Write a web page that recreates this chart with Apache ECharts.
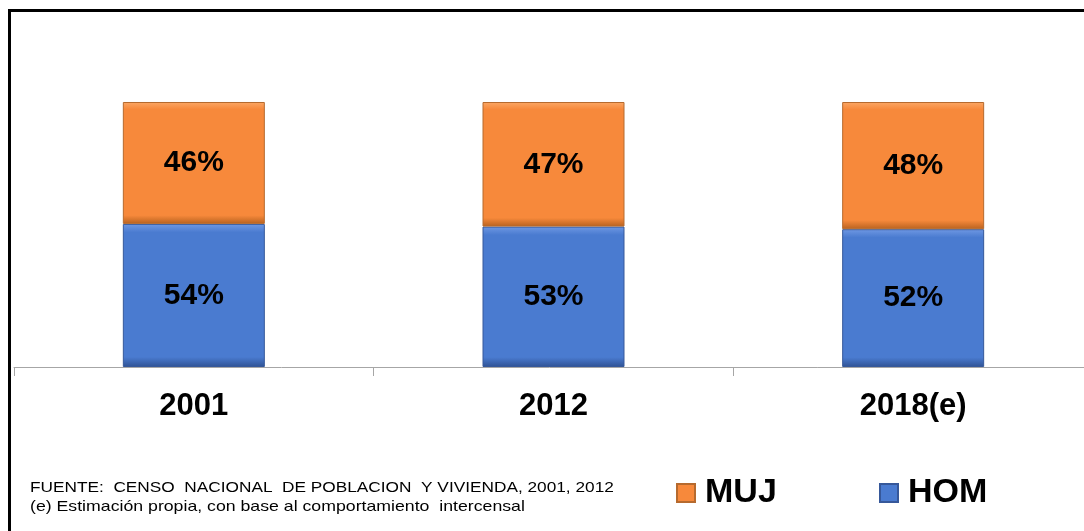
<!DOCTYPE html>
<html>
<head>
<meta charset="utf-8">
<script src="https://cdn.jsdelivr.net/npm/echarts@6/dist/echarts.min.js"></script>
<style>
  html, body { margin: 0; padding: 0; background: #fff; }
  #chart { width: 1084px; height: 531px; }
</style>
</head>
<body>
<div id="chart"></div>
<script>
// data
var years = ['2001', '2012', '2018(e)'];
var hom = [54, 53, 52];
var muj = [46, 47, 48];
var notes = [
  'FUENTE:  CENSO  NACIONAL  DE POBLACION  Y VIVIENDA, 2001, 2012',
  '(e) Estimación propia, con base al comportamiento  intercensal'
];

(function() {
  var orange = '#F7893B';
  var blue = '#4A7BD0';
  var font = 'Arial, "Liberation Sans", sans-serif';

  // fake the bevel: light strip on top, dark strip at the bottom
  function bevel(light, base, dark) {
    return {
      type: 'linear', x: 0, y: 0, x2: 0, y2: 1,
      colorStops: [
        { offset: 0, color: light },
        { offset: 0.06, color: base },
        { offset: 0.93, color: base },
        { offset: 1, color: dark }
      ]
    };
  }

  var label = {
    show: true,
    position: 'inside',
    color: '#000',
    fontFamily: font,
    fontWeight: 'bold',
    fontSize: 30,
    formatter: '{c}%'
  };

  var legendText = { fontFamily: font, fontWeight: 'bold', fontSize: 34, color: '#000', padding: [0, 0, 0, 5] };

  var chart = echarts.init(document.getElementById('chart'), null, { renderer: 'canvas' });
  chart.setOption({
    animation: false,
    grid: { left: 14, top: 102, width: 1079, height: 265, outerBoundsMode: 'none' },
    legend: [
      {
        left: 671, top: 471, itemWidth: 18, itemHeight: 18, itemGap: 0,
        textStyle: legendText,
        data: [{ name: 'MUJ', icon: 'rect' }]
      },
      {
        left: 874, top: 471, itemWidth: 18, itemHeight: 18, itemGap: 0,
        textStyle: legendText,
        data: [{ name: 'HOM', icon: 'rect' }]
      }
    ],
    xAxis: {
      type: 'category',
      data: years,
      axisLine: { lineStyle: { color: '#A6A6A6', width: 1 } },
      axisTick: { show: true, length: 9, lineStyle: { color: '#A6A6A6' } },
      axisLabel: {
        margin: 24,
        color: '#000',
        fontFamily: font,
        fontWeight: 'bold',
        fontSize: 31
      }
    },
    yAxis: { type: 'value', min: 0, max: 100, show: false },
    series: [
      {
        name: 'HOM', type: 'bar', stack: 'total', barWidth: 142,
        data: hom,
        itemStyle: { color: bevel('#6F98E3', blue, '#2F5294'), borderColor: '#36589A', borderWidth: 1 },
        label: label
      },
      {
        name: 'MUJ', type: 'bar', stack: 'total', barWidth: 142,
        data: muj,
        itemStyle: { color: bevel('#FBA765', orange, '#B8621F'), borderColor: '#B66A2E', borderWidth: 1 },
        label: label
      }
    ],
    graphic: [
      {
        type: 'polyline',
        shape: { points: [[9.5, 540], [9.5, 10.5], [1090, 10.5]] },
        style: { stroke: '#000', lineWidth: 3, fill: null }
      },
      {
        type: 'text', x: 30, y: 480, scaleX: 1.15,
        style: { text: notes[0], fill: '#000', font: '15px ' + font }
      },
      {
        type: 'text', x: 30, y: 499, scaleX: 1.18,
        style: { text: notes[1], fill: '#000', font: '15px ' + font }
      }
    ]
  });
  window.addEventListener('resize', function() { chart.resize(); });
})();
</script>
</body>
</html>
